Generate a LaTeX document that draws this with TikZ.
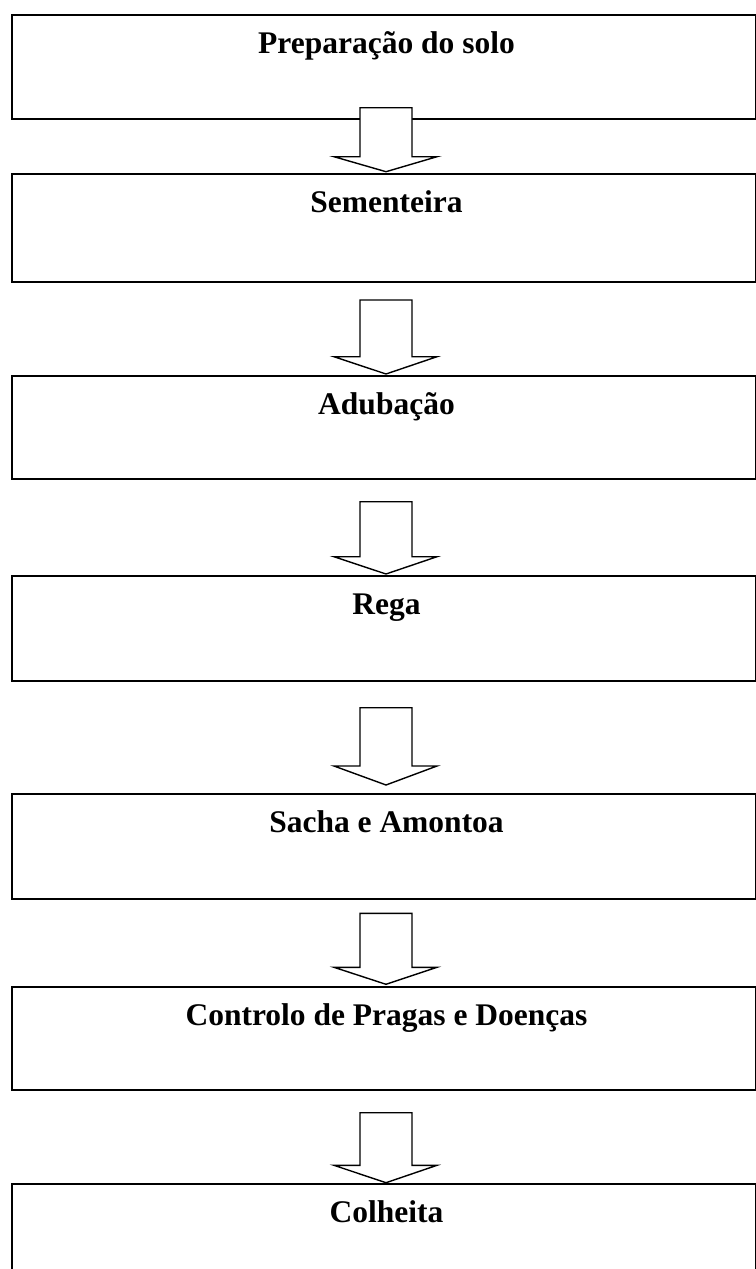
\documentclass[tikz,border=0pt]{standalone}
\usepackage{fontspec}
\setmainfont{Liberation Serif}
\begin{document}
\begin{tikzpicture}[x=1pt,y=-1pt,
  stepbox/.style={draw=black, line width=2pt, fill=white, rectangle, inner sep=0pt},
  steplabel/.style={anchor=base, inner sep=0pt, font=\fontsize{31.5}{36}\selectfont\bfseries},
  arrowline/.style={draw=black, line width=1.4pt, fill=white, line join=miter}]

\useasboundingbox (0,0) rectangle (755,1269);
\fill[white] (0,0) rectangle (755,1269);

% box: name, top y, bottom y, label (the frame runs out to the page edge on the right)
\newcommand{\stage}[4]{%
  \node[stepbox, minimum width=743.5pt, minimum height={#3pt-#2pt}, anchor=north west] (#1) at (11,#2) {};
  \node[steplabel] (#1-t) at (386.5,#2+39.5) {#4};}

% hollow block arrow: shaft top y, head base y, tip coordinate
\newcommand{\blockarrow}[3]{%
  \draw[arrowline] (360,#1) -- (412,#1) -- (412,#2) -- (437,#2) -- (#3) -- (334,#2) -- (360,#2) -- cycle;}

\stage{b1}{14}{117.5}{Preparação do solo}
\stage{b2}{172.7}{280.7}{Sementeira}
\stage{b3}{375}{477.7}{Adubação}
\stage{b4}{575}{680}{Rega}
\stage{b5}{793.3}{897.5}{Sacha e Amontoa}
\stage{b6}{986}{1089.3}{Controlo de Pragas e Doenças}
\stage{b7}{1183.3}{1269.5}{Colheita}

\coordinate (t1) at (386,171.7);
\coordinate (t2) at (386,374);
\coordinate (t3) at (386,574);
\coordinate (t4) at (386,785);
\coordinate (t5) at (386,984.3);
\coordinate (t6) at (386,1182.7);

\blockarrow{107.7}{156.7}{t1}
\blockarrow{300}{356.7}{t2}
\blockarrow{501.7}{556.7}{t3}
\blockarrow{707.7}{766}{t4}
\blockarrow{913.3}{967.3}{t5}
\blockarrow{1112.7}{1165.3}{t6}

\end{tikzpicture}
\end{document}
